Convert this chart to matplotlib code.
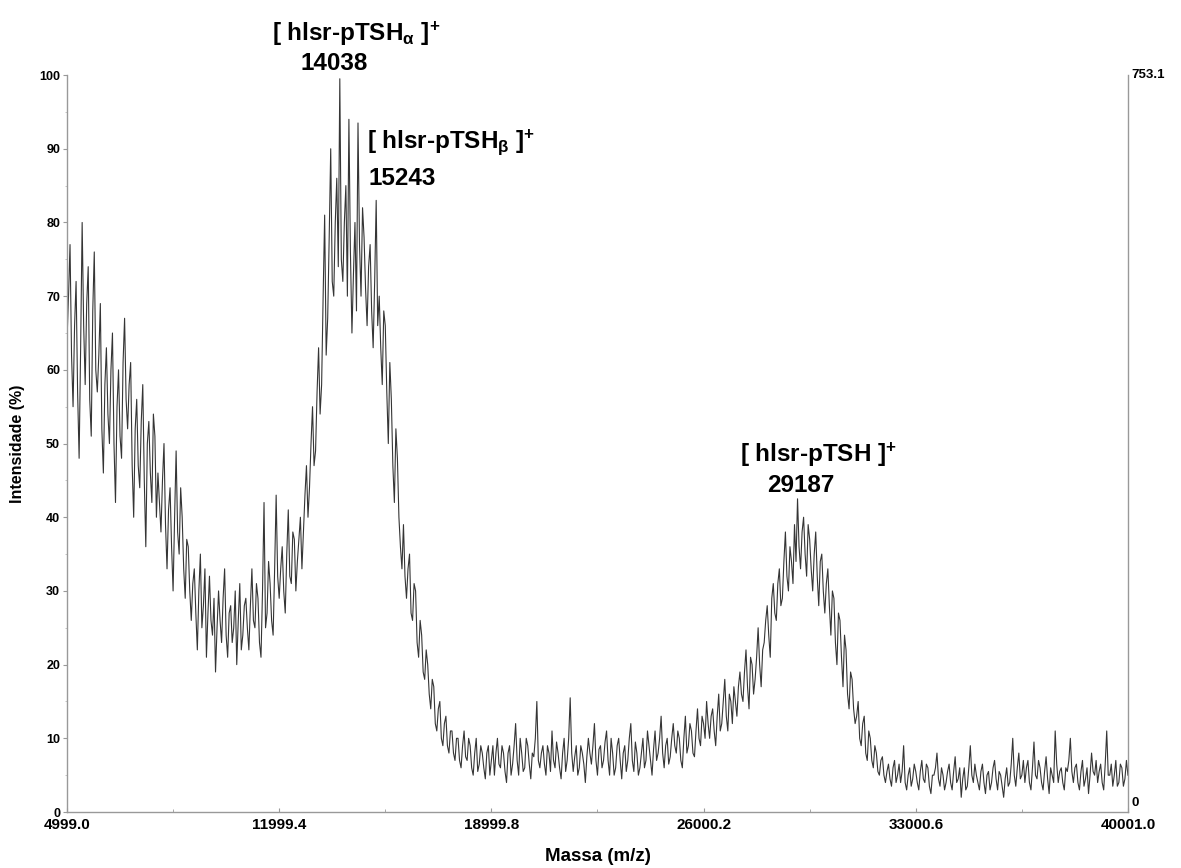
import numpy as np
import matplotlib
matplotlib.use("Agg")
import matplotlib.pyplot as plt

# spectrum: samples every 100 Da ...
mass = np.arange(5000, 40001, 100)
intensity = [
    64, 77, 55, 72, 48, 80, 58, 74, 51, 76,      # 5000
    57, 69, 46, 63, 50, 65, 42, 60, 48, 67,      # 6000
    52, 61, 40, 56, 44, 58, 36, 53, 42, 51,      # 7000
    46, 38, 50, 33, 44, 30, 49, 35, 40, 29,      # 8000
    36, 26, 33, 22, 35, 28, 21, 32, 24, 19,      # 9000
    30, 23, 33, 21, 28, 25, 20, 31, 24, 29,      # 10000
    22, 33, 25, 29, 21, 42, 27, 31, 24, 43,      # 11000
    29, 36, 27, 41, 31, 37, 34, 40, 38, 47,      # 12000
    44, 55, 49, 63, 58, 81, 67, 90, 70, 86,      # 13000
    99.5, 72, 85, 94, 65, 80, 93.5, 70, 78, 66,  # 14000
    77, 63, 83, 70, 58, 66, 50, 56, 42, 48,      # 15000
    36, 39, 29, 35, 26, 30, 21, 24, 18, 20,      # 16000
    14, 17, 11, 15, 9, 13, 8, 11, 7, 10,         # 17000
    6, 11, 7, 9, 5, 10, 6.5, 8, 4.5, 9,          # 18000
    7, 5, 10, 6, 8, 4, 9, 6.5, 12, 5,            # 19000
    8, 6, 9, 4.5, 7.5, 15, 6, 9, 5, 8,           # 20000
    11, 6, 8, 4.5, 10, 7, 15.5, 5.5, 9, 6,       # 21000
    8, 4, 10, 6.5, 12, 5, 9, 7, 11, 5,           # 22000
    8, 6, 10, 4.5, 9, 7, 12, 5.5, 8, 6,          # 23000
    10, 7, 9, 5, 11, 8, 13, 6, 10, 7.5,          # 24000
    12, 8, 10, 6, 13, 9, 11, 7.5, 14, 9,         # 25000
    12, 15, 10, 14, 9, 16, 12, 18, 11, 15,       # 26000
    17, 13, 19, 15, 22, 14, 20, 18, 25, 17,      # 27000
    23, 28, 21, 31, 26, 33, 29, 38, 30, 34,      # 28000
    39, 42.5, 33, 40, 32, 37, 30, 38, 28, 35,    # 29000
    27, 33, 24, 29, 20, 26, 17, 22, 14, 18,      # 30000
    12, 15, 9, 13, 7, 10, 6, 8, 5, 7.5,          # 31000
    4, 6.5, 3.5, 7, 5, 4, 9, 3, 6, 4.5,          # 32000
    5.5, 3, 7, 4, 6, 2.5, 5, 8, 3.5, 5,          # 33000
    4, 6.5, 3, 7.5, 4.5, 2, 6, 3.5, 9, 4,        # 34000
    5, 3, 6.5, 2.5, 5.5, 4, 7, 3, 5, 2,          # 35000
    6, 4, 10, 3.5, 8, 5, 4, 7, 3, 9.5,           # 36000
    4.5, 6, 3, 7.5, 2.5, 5, 11, 4, 6, 3,         # 37000
    5.5, 10, 4, 6.5, 3, 7, 4.5, 2.5, 8, 5,       # 38000
    4, 6.5, 3, 11, 5, 3.5, 7, 4, 6, 4.5,         # 39000
    5,                                           # 40000
]

# ... and the samples in between (5050, 5150, ...)
mass_mid = np.arange(5050, 40000, 100)
intensity_mid = [
    70, 62, 66, 57, 63, 66, 69, 56, 68, 60,      # 5050
    62, 52, 58, 54, 60, 50, 55, 51, 61, 56,      # 6050
    58, 47, 52, 47, 53, 45, 50, 46, 54, 40,      # 7050
    42, 45, 39, 41, 36, 40, 38, 44, 33, 37,      # 8050
    30, 31, 27, 30, 25, 33, 27, 26, 29, 25,      # 9050
    26, 29, 24, 27, 23, 30, 26, 22, 28, 25,      # 10050
    28, 26, 31, 23, 30, 25, 34, 26, 33, 32,      # 11050
    33, 30, 35, 32, 38, 30, 37, 33, 43, 40,      # 12050
    50, 47, 57, 54, 70, 62, 78, 72, 80, 74,      # 13050
    75, 80, 70, 76, 73, 68, 77, 82, 71, 74,      # 14050
    68, 72, 66, 63, 68, 57, 61, 47, 52, 40,      # 15050
    33, 32, 33, 27, 31, 23, 26, 19, 22, 16,      # 16050
    18, 12, 14, 10, 12, 9, 11, 8, 10, 7,         # 17050
    9, 7.5, 10, 6, 8, 5.5, 9, 6, 8, 5,           # 18050
    9, 8, 6.5, 9, 5.5, 8, 5, 9, 7, 10,           # 19050
    5.5, 10, 6.5, 8, 10, 7, 8, 6.5, 9, 5.5,      # 20050
    7, 9.5, 6, 8, 5.5, 10, 8, 7.5, 5, 9,         # 21050
    6.5, 7.5, 8, 9, 7, 8.5, 6, 9.5, 7, 10,       # 22050
    5, 9, 7, 8, 5.5, 10, 7, 9.5, 5, 8,           # 23050
    6, 11, 7, 8.5, 7, 10, 8, 9, 6.5, 10,         # 24050
    9, 11, 7, 10, 8, 12, 8, 11, 10, 13,          # 25050
    10, 12, 13, 11, 13, 11, 15, 13, 16, 12,      # 26050
    15, 17, 16, 19, 17, 21, 16, 21, 20, 22,      # 27050
    26, 24, 29, 27, 31, 28, 34, 32, 36, 31,      # 28050
    34, 36, 38, 35, 39, 33, 35, 32, 34, 30,      # 29050
    31, 28, 30, 23, 27, 21, 24, 16, 19, 14,      # 30050
    13, 10, 12, 8, 11, 7, 9, 5.5, 7, 5,          # 31050
    5.5, 4.5, 6, 4, 6.5, 5.5, 4, 5, 3.5, 6.5,    # 32050
    4, 5.5, 4.5, 6.5, 3.5, 5, 6, 4.5, 6, 3,      # 33050
    5.5, 4, 5.5, 4, 6, 4.5, 3, 6, 5, 6.5,        # 34050
    4, 5.5, 4, 5, 3, 6, 4.5, 5.5, 3.5, 4.5,      # 35050
    3.5, 6.5, 5, 6, 4.5, 7, 6, 4, 6, 5,          # 36050
    7, 4, 5.5, 4.5, 6, 4, 6.5, 5.5, 4, 6,        # 37050
    7, 5.5, 6, 4, 5.5, 3.5, 6, 5, 5.5, 7,        # 38050
    5.5, 4, 6.5, 5, 6.5, 5, 3.5, 6.5, 3.5, 7,    # 39050
]

x_ticks = [4999.0, 11999.4, 18999.8, 26000.2, 33000.6, 40001.0]
y_ticks = [0, 10, 20, 30, 40, 50, 60, 70, 80, 90, 100]

peak_labels = [r"[ hlsr-pTSH$_{\alpha}$ ]$^{+}$", "14038",
               r"[ hlsr-pTSH$_{\beta}$ ]$^{+}$", "15243",
               r"[ hlsr-pTSH ]$^{+}$", "29187"]
label_pos = [(11764, 104.7), (12688, 100.7),
             (14899, 90.1), (14932, 85.1),
             (27208, 47.5), (28099, 43.4)]

plt.rcParams['font.family'] = ['Liberation Sans', 'DejaVu Sans']
plt.rcParams['font.weight'] = 'bold'
plt.rcParams['mathtext.fontset'] = 'custom'
plt.rcParams['mathtext.rm'] = 'Liberation Sans:bold'
plt.rcParams['mathtext.it'] = 'Liberation Sans'
plt.rcParams['mathtext.bf'] = 'Liberation Sans:bold'

# merge the two sample sets into one trace
mass_all = np.empty(len(mass) + len(mass_mid))
inten_all = np.empty(len(mass) + len(mass_mid))
mass_all[0::2] = mass
mass_all[1::2] = mass_mid
inten_all[0::2] = intensity
inten_all[1::2] = intensity_mid

fig = plt.figure(figsize=(11.81, 8.68), dpi=100)
ax = fig.add_axes([0.0567, 0.0645, 0.8984, 0.849])

ax.plot(mass_all, inten_all, color='#353535', lw=0.8)

ax.set_xlim(x_ticks[0], x_ticks[-1])
ax.set_ylim(0, 100)
ax.set_xticks(x_ticks)
ax.set_xticklabels(["%.1f" % t for t in x_ticks], fontsize=11, fontweight='bold')
ax.set_yticks(y_ticks)
ax.set_yticklabels([str(t) for t in y_ticks], fontsize=9, fontweight='bold')
ax.set_xticks([(a + b) / 2 for a, b in zip(x_ticks[:-1], x_ticks[1:])], minor=True)
ax.set_yticks([t + 5 for t in y_ticks[:-1]], minor=True)
ax.tick_params(axis='x', which='major', direction='in', length=3, color='#999999', pad=4)
ax.tick_params(axis='x', which='minor', direction='in', length=2, color='#999999')
ax.tick_params(axis='y', which='major', direction='out', length=3, color='#999999', pad=2)
ax.tick_params(axis='y', which='minor', direction='out', length=1.5, color='#bbbbbb')

ax.spines['top'].set_visible(False)
for s in ['left', 'bottom', 'right']:
    ax.spines[s].set_color('#999999')
    ax.spines[s].set_linewidth(1.0)

ax.set_xlabel("Massa (m/z)", fontsize=13.5, fontweight='bold', labelpad=12)
ax.set_ylabel("Intensidade (%)", fontsize=11.5, fontweight='bold')
ax.yaxis.set_label_coords(-0.04, 0.5)

ax.text(1.003, 1.0, "753.1", transform=ax.transAxes, ha='left', va='center',
        fontsize=9.5, fontweight='bold')
ax.text(1.003, 0.004, "0", transform=ax.transAxes, ha='left', va='bottom',
        fontsize=9.5, fontweight='bold')

for txt, (xx, yy) in zip(peak_labels, label_pos):
    ax.text(xx, yy, txt, fontsize=17.5, fontweight='bold', ha='left',
            va='baseline', clip_on=False)

fig.savefig("out.png", dpi=100, facecolor='white')
